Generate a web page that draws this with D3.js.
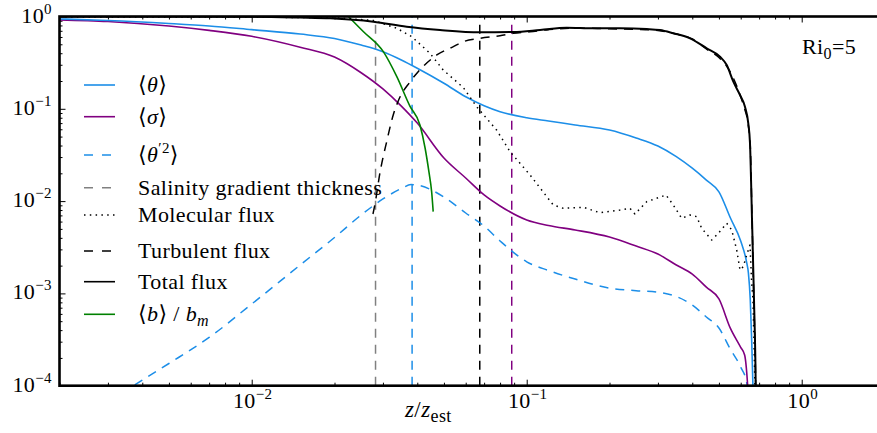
<!DOCTYPE html>
<html><head><meta charset="utf-8">
<script src="https://cdn.jsdelivr.net/npm/d3@7"></script>
<style>
html,body{margin:0;padding:0;background:#fff;}
text{font-family:"Liberation Serif","DejaVu Serif",serif;}
</style></head><body>
<svg id="chart" width="877" height="433"></svg>
<script>
// ---- data: depth z/z_est and profile values ----
const thetaZ = [0.002,0.003,0.005,0.007,0.01,0.015,0.02,0.025,0.03,0.035,0.04,0.05,0.06,0.07,0.08,0.1,0.12,0.15,0.2,0.25,0.3,0.35,0.4,0.45,0.5,0.55,0.6,0.63,0.64,0.65,0.658,0.666];
const thetaMean = [0.94,0.905,0.84,0.79,0.72,0.645,0.578,0.49,0.415,0.338,0.275,0.189,0.135,0.108,0.093,0.080,0.0738,0.0668,0.0589,0.0483,0.0395,0.0303,0.0227,0.0169,0.0126,0.0066,0.0037,0.0022,0.00166,0.00085,0.0003,0.00008];

const sigmaZ = [0.002,0.003,0.005,0.007,0.01,0.015,0.02,0.025,0.03,0.035,0.04,0.05,0.06,0.07,0.08,0.1,0.12,0.15,0.2,0.25,0.3,0.35,0.4,0.45,0.5,0.55,0.6,0.62,0.635,0.642];
const sigmaMean = [0.92,0.883,0.789,0.708,0.61,0.465,0.364,0.246,0.164,0.107,0.070,0.0293,0.0178,0.01165,0.00885,0.00624,0.00544,0.00487,0.00408,0.00326,0.00267,0.00203,0.00162,0.00117,0.00087,0.00042,0.00026,0.000215,0.000107,0.00006];

const thetaVarZ = [0.003,0.004,0.005,0.007,0.01,0.015,0.02,0.025,0.03,0.035,0.038,0.04,0.05,0.06,0.07,0.08,0.1,0.12,0.15,0.2,0.25,0.3,0.35,0.4,0.45,0.5,0.55,0.6,0.63,0.645];
const thetaVar = [0.000066,0.000115,0.000174,0.000333,0.000767,0.00203,0.00403,0.00707,0.01054,0.01368,0.0151,0.0149,0.01107,0.00743,0.00537,0.0037,0.0022,0.00177,0.00143,0.00114,0.00107,0.00103,0.000925,0.000748,0.000555,0.000422,0.000249,0.000159,0.00011,0.00007];

const buoyZ = [0.021,0.0228,0.0255,0.0301,0.0337,0.0376,0.0409,0.0427,0.0441,0.0451,0.0457];
const buoyRatio = [1.25,0.956,0.684,0.416,0.223,0.107,0.0668,0.0376,0.0207,0.0127,0.0077];

const molZ = [0.002,0.01,0.015,0.021,0.0277,0.0337,0.0382,0.0445,0.0497,0.0588,0.0658,0.0777,0.087,0.1028,0.1249,0.1358,0.1606,0.1847,0.2183,0.2374,0.2475,0.2731,0.321,0.3412,0.366,0.3925,0.415,0.4328,0.4707,0.4974,0.5337,0.5566,0.5803,0.5965,0.6132,0.6308,0.6485,0.6578,0.665,0.676,0.68];
const molFlux = [0.99,0.985,0.975,0.963,0.905,0.745,0.604,0.399,0.263,0.17,0.105,0.0589,0.0343,0.0192,0.00907,0.00836,0.00857,0.00748,0.00801,0.00836,0.00725,0.00985,0.01164,0.00907,0.00651,0.00707,0.00678,0.00507,0.00379,0.00448,0.00575,0.00486,0.00295,0.00179,0.00195,0.00261,0.00334,0.00129,0.00085,0.0001,0.00005];

const turbZ = [0.0276,0.0281,0.0293,0.031,0.0327,0.0341,0.0376,0.0403,0.0471,0.0541,0.0588,0.0676,0.0799,0.0894,0.1028,0.12,0.15,0.2,0.25,0.3,0.35,0.4,0.45,0.5,0.55,0.6,0.62,0.64,0.65,0.66,0.67,0.68,0.682];
const turbFlux = [0.00725,0.00947,0.0207,0.0448,0.0857,0.1215,0.195,0.252,0.383,0.471,0.533,0.58,0.619,0.658,0.684,0.72,0.75,0.735,0.725,0.705,0.645,0.57,0.445,0.36,0.25,0.135,0.10,0.065,0.04,0.006,0.0008,0.0001,0.00005];

const totZ = [0.002,0.01,0.015,0.0193,0.0277,0.0366,0.0484,0.0676,0.0894,0.1118,0.1397,0.1746,0.2183,0.2731,0.3052,0.3412,0.3925,0.4513,0.5045,0.5337,0.5641,0.5965,0.6218,0.6393,0.6485,0.6596,0.6707,0.6802,0.682];
const totFlux = [1.0,0.995,0.975,0.956,0.878,0.775,0.714,0.674,0.68,0.714,0.756,0.745,0.745,0.732,0.714,0.658,0.58,0.452,0.367,0.298,0.1966,0.141,0.1054,0.0697,0.0423,0.00624,0.00085,0.000106,0.00005];

// characteristic depths drawn as vertical dashed markers
const markerZ = [0.0282, 0.0383, 0.0675, 0.0882];
const markerColor = ["#808080", "#1c8ee8", "#000000", "#800080"];

const xMajor = [0.01, 0.1, 1];
const xMajorExp = ["\u22122", "\u22121", "0"];
const yMajor = [1e-4, 1e-3, 1e-2, 1e-1, 1];
const yMajorExp = ["\u22124", "\u22123", "\u22122", "\u22121", "0"];

// ---- layout ----
const plot = {left: 59.5, right: 884.5, top: 16.5, bottom: 385.7};
const x = d3.scaleLog().domain([0.002, 2]).range([plot.left, plot.right]);
const y = d3.scaleLog().domain([1e-4, 1]).range([plot.bottom, plot.top]);

const svg = d3.select("#chart");
const FONT = "Liberation Serif, DejaVu Serif, serif";
const FS = 22;
const LS = 0.4;

function minors(domain) {
  const out = [];
  for (let e = -5; e <= 1; e++) {
    for (let k = 2; k <= 9; k++) {
      const v = k * Math.pow(10, e);
      if (v >= domain[0] * 0.9999 && v <= domain[1] * 1.0001) out.push(v);
    }
  }
  return out;
}
const xMinor = minors(x.domain());
const yMinor = minors(y.domain());

svg.append("defs").append("clipPath").attr("id", "clip")
  .append("rect").attr("x", plot.left).attr("y", plot.top)
  .attr("width", plot.right - plot.left).attr("height", plot.bottom - plot.top);

// tick marks on all four sides, pointing inward
function tickGroup(axisFn, scale, values, size, transform) {
  const g = svg.append("g").attr("transform", transform)
    .call(axisFn(scale).tickValues(values).tickSize(-size).tickSizeOuter(0).tickFormat(""));
  g.select(".domain").remove();
  g.selectAll(".tick line").attr("stroke", "#000").attr("stroke-width", 1);
  return g;
}
tickGroup(d3.axisBottom, x, xMajor, 6, `translate(0,${plot.bottom})`);
tickGroup(d3.axisBottom, x, xMinor, 3, `translate(0,${plot.bottom})`);
tickGroup(d3.axisTop, x, xMajor, 6, `translate(0,${plot.top})`);
tickGroup(d3.axisTop, x, xMinor, 3, `translate(0,${plot.top})`);
tickGroup(d3.axisLeft, y, yMajor, 6, `translate(${plot.left},0)`);
tickGroup(d3.axisLeft, y, yMinor, 3, `translate(${plot.left},0)`);
tickGroup(d3.axisRight, y, yMajor, 6, `translate(${plot.right},0)`);
tickGroup(d3.axisRight, y, yMinor, 3, `translate(${plot.right},0)`);

function txt(g, xp, yp) {
  return g.append("text").attr("x", xp).attr("y", yp)
    .attr("font-family", FONT).attr("font-size", FS)
    .attr("letter-spacing", LS).attr("fill", "#000");
}

// tick labels of the form 10^n
function powLabel(t, exp) {
  t.append("tspan").text("10");
  t.append("tspan").attr("dy", -9).attr("font-size", 15).text(exp);
}
xMajor.forEach((v, i) => {
  const t = txt(svg, x(v) + 1, 408).attr("text-anchor", "middle");
  powLabel(t, xMajorExp[i]);
});
yMajor.forEach((v, i) => {
  const t = txt(svg, 52, y(v) + 6).attr("text-anchor", "end");
  powLabel(t, yMajorExp[i]);
});

// curves
const curves = svg.append("g").attr("clip-path", "url(#clip)");

markerZ.forEach((z, i) => {
  curves.append("line")
    .attr("x1", x(z)).attr("x2", x(z)).attr("y1", y(1e-4)).attr("y2", y(1))
    .attr("stroke", markerColor[i]).attr("stroke-width", 1.5)
    .attr("stroke-dasharray", "9,7");
});

function drawSeries(zs, vs, color, width, dash, curve) {
  const pts = zs.map((z, i) => [z, vs[i]]);
  const line = d3.line().x(d => x(d[0])).y(d => y(d[1])).curve(curve || d3.curveMonotoneX);
  curves.append("path").datum(pts).attr("d", line)
    .attr("fill", "none").attr("stroke", color).attr("stroke-width", width)
    .attr("stroke-dasharray", dash || null)
    .attr("stroke-linejoin", "round");
}

drawSeries(thetaVarZ, thetaVar, "#1c8ee8", 1.5, "9,7");
drawSeries(sigmaZ, sigmaMean, "#800080", 1.6);
drawSeries(thetaZ, thetaMean, "#1c8ee8", 1.6);
drawSeries(buoyZ, buoyRatio, "#008000", 1.6);
drawSeries(turbZ, turbFlux, "#000", 1.5, "9,7");
drawSeries(molZ, molFlux, "#000", 1.5, "1.5,4.3", d3.curveLinear);
drawSeries(totZ, totFlux, "#000", 2);

// frame
svg.append("rect").attr("x", plot.left).attr("y", plot.top)
  .attr("width", plot.right - plot.left).attr("height", plot.bottom - plot.top)
  .attr("fill", "none").attr("stroke", "#000").attr("stroke-width", 2.6);

// legend
const legendRows = [
  {color: "#1c8ee8", dash: null, y: 85, parts: [["\u27E8",""],["\u03B8","i"],["\u27E9",""]]},
  {color: "#800080", dash: null, y: 116.7, parts: [["\u27E8",""],["\u03C3","i"],["\u27E9",""]]},
  {color: "#1c8ee8", dash: "9,9", y: 155, parts: [["\u27E8",""],["\u03B8","i"],["\u20322","sup"],["\u27E9","after"]]},
  {color: "#808080", dash: "9,9", y: 187.7, parts: [["Salinity gradient thickness",""]]},
  {color: "#000", dash: "1.5,4.3", y: 215, parts: [["Molecular flux",""]]},
  {color: "#000", dash: "9,9", y: 251, parts: [["Turbulent flux",""]]},
  {color: "#000", dash: null, y: 281.7, parts: [["Total flux",""]]},
  {color: "#008000", dash: null, y: 314.3, parts: [["\u27E8",""],["b","i"],["\u27E9",""],[" / ",""],["b","i"],["m","sub"]]}
];
const legend = svg.append("g");
legendRows.forEach(r => {
  legend.append("line").attr("x1", 84).attr("x2", 115).attr("y1", r.y).attr("y2", r.y)
    .attr("stroke", r.color).attr("stroke-width", 1.6).attr("stroke-dasharray", r.dash);
  const t = txt(legend, 138, r.y + 7);
  let shifted = 0;
  r.parts.forEach(([s, kind]) => {
    const sp = t.append("tspan").text(s);
    if (kind === "i") sp.attr("font-style", "italic");
    if (kind === "sup") { sp.attr("dy", -9).attr("font-size", 15); shifted = 9; }
    else if (kind === "sub") { sp.attr("dy", 5).attr("font-size", 16).attr("font-style", "italic"); }
    else if (kind === "after") { sp.attr("dy", shifted); shifted = 0; }
  });
});

// annotation
const ri = txt(svg, 802, 54);
ri.append("tspan").text("Ri");
ri.append("tspan").attr("dy", 5).attr("font-size", 16).text("0");
ri.append("tspan").attr("dy", -5).text("=5");

// x-axis title
const xl = txt(svg, 405, 417).attr("font-size", 23);
xl.append("tspan").attr("font-style", "italic").text("z");
xl.append("tspan").text("/");
xl.append("tspan").attr("font-style", "italic").text("z");
xl.append("tspan").attr("dy", 5).attr("font-size", 18).text("est");
</script>
</body></html>
